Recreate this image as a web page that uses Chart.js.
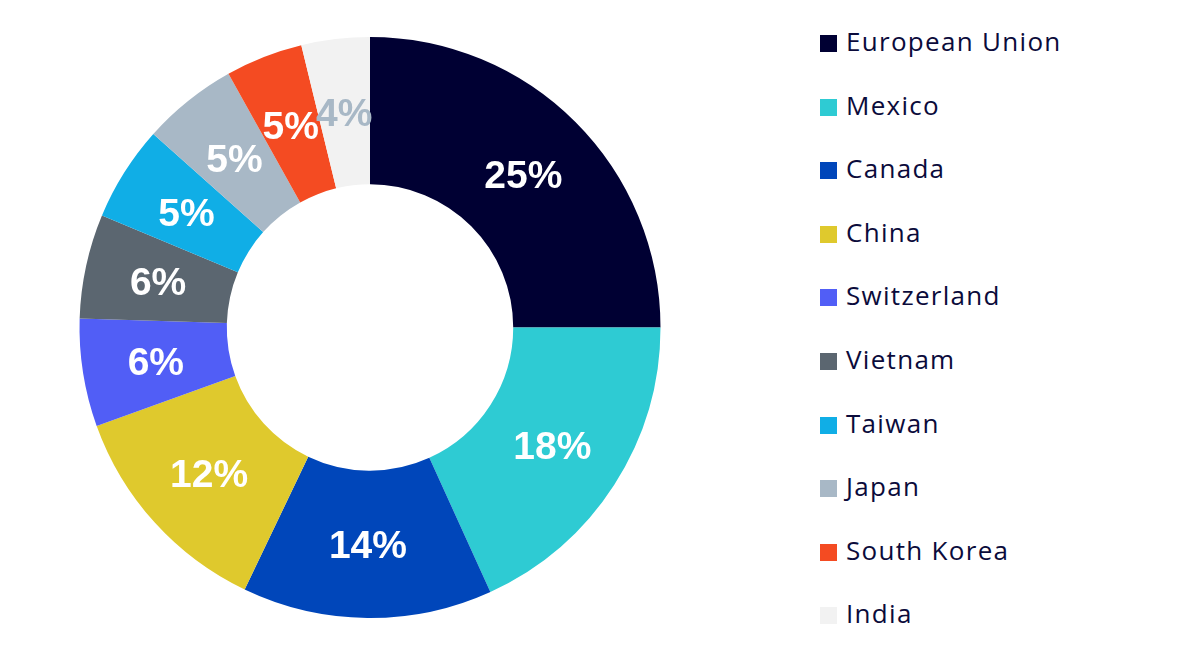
<!DOCTYPE html>
<html>
<head>
<meta charset="utf-8">
<script src="https://cdn.jsdelivr.net/npm/chart.js@4"></script>
<style>
    html, body { margin: 0; padding: 0; background: #fff; }
    #wrap { position: relative; width: 1200px; height: 658px; }
    #chartBox { position: absolute; left: 0; top: 0; width: 740px; height: 658px; }
    #legend { position: absolute; left: 820px; top: 0; margin: 0; padding: 0; list-style: none;
              font-family: "Open Sans", sans-serif; font-size: 26px; letter-spacing: 1.3px; color: #0b0b3b; }
    #legend li { position: absolute; left: 0; white-space: nowrap; height: 34px; line-height: 34px; }
    #legend span.box { display: inline-block; width: 17px; height: 17px; margin-right: 9px; vertical-align: -1px; }
</style>
</head>
<body>
<div id="wrap">
    <div id="chartBox"><canvas id="chart"></canvas></div>
    <ul id="legend"></ul>
</div>
<script>
const countries = ['European Union', 'Mexico', 'Canada', 'China', 'Switzerland', 'Vietnam', 'Taiwan', 'Japan', 'South Korea', 'India'];
// slice sizes measured from the arcs, and the rounded labels printed on them
const shares = [25.0, 18.2, 13.9, 12.4, 6.0, 5.8, 5.3, 5.3, 4.3, 3.8];
const shareLabels = ['25%', '18%', '14%', '12%', '6%', '6%', '5%', '5%', '5%', '4%'];
const colors = ['#000033', '#2ecbd3', '#0046ba', '#dfc92d', '#515ef6', '#5b6670', '#10aee6', '#a8b8c6', '#f44b22', '#f2f2f2'];
const labelColors = ['#fff', '#fff', '#fff', '#fff', '#fff', '#fff', '#fff', '#fff', '#fff', '#a8b8c6'];

// Percent labels drawn at each arc's centre
const sliceLabels = {
    id: 'sliceLabels',
    afterDatasetsDraw(chart) {
        const ctx = chart.ctx;
        const meta = chart.getDatasetMeta(0);
        ctx.save();
        ctx.font = 'bold 39px "Liberation Sans", Arial, sans-serif';
        ctx.textAlign = 'center';
        ctx.textBaseline = 'middle';
        meta.data.forEach((arc, i) => {
            const pos = arc.tooltipPosition();
            ctx.fillStyle = labelColors[i];
            ctx.fillText(shareLabels[i], pos.x, pos.y + 3);
        });
        ctx.restore();
    }
};

const ctx = document.getElementById('chart').getContext('2d');
const chart = new Chart(ctx, {
    type: 'doughnut',
    data: {
        labels: countries,
        datasets: [{ data: shares, backgroundColor: colors, borderWidth: 0 }]
    },
    options: {
        responsive: true,
        maintainAspectRatio: false,
        animation: false,
        cutout: '49.3%',
        layout: { padding: { left: 79, right: 79, top: 37, bottom: 40 } },
        plugins: {
            legend: { display: false },
            tooltip: { enabled: false }
        }
    },
    plugins: [sliceLabels]
});

// Legend
const legend = document.getElementById('legend');
countries.forEach((name, i) => {
    const li = document.createElement('li');
    li.style.top = (24 + i * 63.6) + 'px';
    li.innerHTML = `<span class="box" style="background:${colors[i]}"></span>${name}`;
    legend.appendChild(li);
});
</script>
</body>
</html>
